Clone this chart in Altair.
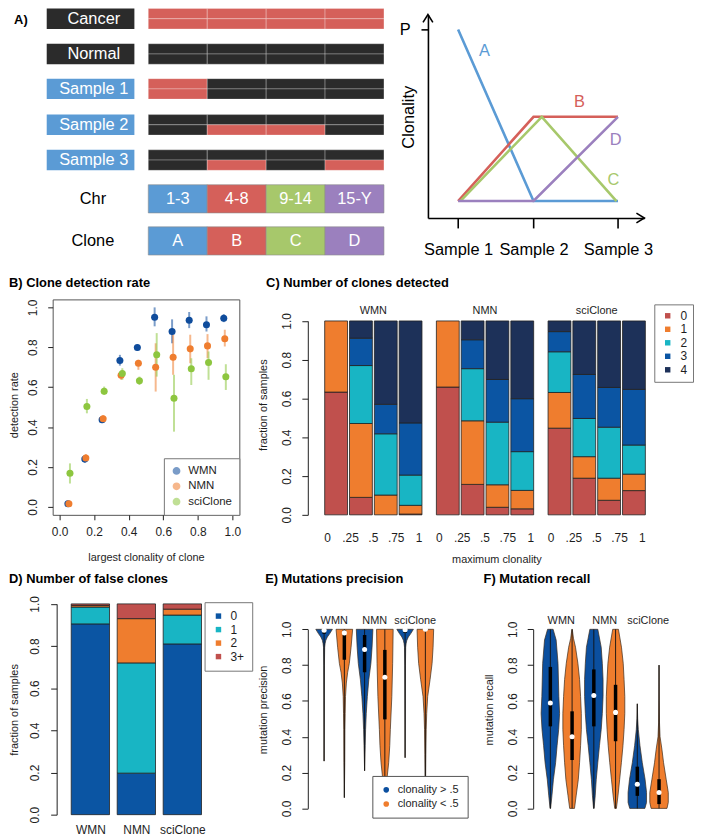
import altair as alt
import pandas as pd

FONT = "Liberation Sans"
INK = "#1e1e1e"
DARK = "#2b2b2b"
TUMOR = "#d5605a"
SAMPLE_BLUE = "#5b9bd5"
SEG_COLORS = ["#5b9bd5", "#d5605a", "#a7c86b", "#9b80be"]
M_COLORS = ["#0f4c9c", "#ef7d2f", "#8dc63f"]
N_COLORS = ["#c0504d", "#ef7d2e", "#18b5c4", "#0b55a3", "#1d3159"]
F_COLORS = ["#0b55a3", "#18b5c4", "#ef7d2e", "#c0504d"]
V_COLORS = ["#0b4f9f", "#ef7d2d"]

# ---------------- Panel A: schematic ----------------
a_samples = ["Cancer", "Normal", "Sample 1", "Sample 2", "Sample 3"]
a_kind = ["tissue", "tissue", "sample", "sample", "sample"]
a_copy_top = [["T", "T", "T", "T"], ["N", "N", "N", "N"], ["T", "N", "N", "N"],
              ["N", "N", "N", "N"], ["N", "N", "N", "N"]]
a_copy_bottom = [["T", "T", "T", "T"], ["N", "N", "N", "N"], ["T", "N", "N", "N"],
                 ["N", "T", "T", "N"], ["N", "T", "N", "T"]]
a_chr = ["1-3", "4-8", "9-14", "15-Y"]
a_clone = ["A", "B", "C", "D"]

s_clone = ["A", "B", "C", "D"]
s_x = [[1, 2, 3.12], [1, 2, 3.12], [1.03, 2.11, 3.1], [1, 2, 3.12]]
s_y = [[1.0, 0.09, 0.09], [0.09, 0.537, 0.537], [0.09, 0.537, 0.09], [0.09, 0.09, 0.537]]
s_label_x = [1.35, 2.61, 3.06, 3.09]
s_label_y = [0.884, 0.615, 0.204, 0.415]
s_samples = ["Sample 1", "Sample 2", "Sample 3"]
s_sample_x = [1, 2, 3.12]

# ---------------- Panel B: clone detection rate ----------------
b_methods = ["WMN", "NMN", "sciClone"]
b_x = [
    [0.048, 0.146, 0.246, 0.349, 0.450, 0.550, 0.651, 0.750, 0.850, 0.950],
    [0.054, 0.152, 0.252, 0.356, 0.456, 0.556, 0.657, 0.756, 0.856, 0.956],
    [0.060, 0.158, 0.258, 0.363, 0.462, 0.562, 0.662, 0.762, 0.862, 0.962],
]
b_rate = [
    [0.015, 0.240, 0.437, 0.734, 0.799, 0.951, 0.879, 0.936, 0.913, 0.946],
    [0.015, 0.245, 0.442, 0.660, 0.720, 0.700, 0.750, 0.792, 0.807, 0.843],
    [0.168, 0.503, 0.580, 0.668, 0.632, 0.762, 0.544, 0.692, 0.724, 0.652],
]
b_lo = [
    [0.005, 0.220, 0.420, 0.708, 0.782, 0.905, 0.820, 0.896, 0.879, 0.926],
    [0.005, 0.225, 0.425, 0.637, 0.687, 0.578, 0.662, 0.720, 0.745, 0.804],
    [0.117, 0.469, 0.561, 0.637, 0.611, 0.653, 0.377, 0.611, 0.637, 0.586],
]
b_hi = [
    [0.025, 0.260, 0.455, 0.762, 0.812, 1.000, 0.940, 0.977, 0.955, 0.966],
    [0.025, 0.265, 0.460, 0.678, 0.737, 0.820, 0.863, 0.863, 0.866, 0.888],
    [0.218, 0.541, 0.603, 0.695, 0.653, 0.871, 0.662, 0.745, 0.779, 0.715],
]

# ---------------- Panel C: number of clones detected ----------------
c_methods = ["WMN", "NMN", "sciClone"]
c_classes = ["0", "1", "2", "3", "4"]
c_ticklabels = ["0", ".25", ".5", ".75", "1"]
c_wmn = [[0.633, 0.367, 0, 0, 0], [0.090, 0.381, 0.299, 0.141, 0.089],
         [0.0, 0.102, 0.316, 0.152, 0.430], [0.004, 0.045, 0.156, 0.269, 0.526]]
c_nmn = [[0.659, 0.341, 0, 0, 0], [0.157, 0.328, 0.269, 0.149, 0.097],
         [0.039, 0.116, 0.323, 0.220, 0.302], [0.031, 0.095, 0.200, 0.273, 0.401]]
c_sci = [[0.447, 0.184, 0.210, 0.104, 0.055], [0.189, 0.111, 0.197, 0.227, 0.276],
         [0.075, 0.114, 0.263, 0.205, 0.343], [0.125, 0.085, 0.150, 0.287, 0.353]]

# ---------------- Panel D: number of false clones ----------------
d_methods = ["WMN", "NMN", "sciClone"]
d_classes = ["0", "1", "2", "3+"]
d_frac = [[0.905, 0.080, 0.008, 0.007], [0.197, 0.523, 0.210, 0.070], [0.810, 0.137, 0.028, 0.025]]

# ---------------- Panels E/F: violins ----------------
v_groups = ["clonality > .5", "clonality < .5"]
v_methods = ["WMN", "NMN", "sciClone"]
v_group_of = ["clonality > .5", "clonality < .5"] * 3

e_dens_y = [
    [1.0, 0.976, 0.957, 0.939, 0.92, 0.90, 0.80, 0.60, 0.264],
    [1.0, 0.90, 0.81, 0.76, 0.70, 0.625, 0.53, 0.44, 0.255, 0.06],
    [1.0, 0.90, 0.81, 0.72, 0.625, 0.53, 0.44, 0.35, 0.21],
    [1.0, 0.81, 0.625, 0.44, 0.35, 0.255, 0.18, 0.10, 0.0],
    [1.0, 0.976, 0.957, 0.939, 0.92, 0.90, 0.80, 0.60, 0.283],
    [1.0, 0.90, 0.81, 0.72, 0.625, 0.53, 0.44, 0.30, 0.15, 0.0],
]
e_dens_d = [
    [1.0, 0.68, 0.39, 0.21, 0.12, 0.07, 0.04, 0.024, 0.0],
    [1.0, 0.81, 0.60, 0.40, 0.24, 0.14, 0.10, 0.07, 0.05, 0.0],
    [1.0, 0.90, 0.76, 0.51, 0.33, 0.20, 0.12, 0.07, 0.0],
    [1.0, 0.94, 0.84, 0.66, 0.59, 0.46, 0.29, 0.15, 0.02],
    [1.0, 0.68, 0.39, 0.21, 0.12, 0.07, 0.04, 0.024, 0.0],
    [1.0, 0.93, 0.81, 0.57, 0.28, 0.16, 0.10, 0.06, 0.03, 0.0],
]
e_median = [0.995, 0.980, 0.887, 0.732, 0.997, 1.0]
e_q1 = [0.975, 0.830, 0.760, 0.497, 0.980, 0.990]
e_q3 = [1.0, 0.995, 0.968, 0.885, 1.0, 1.0]
e_min = [0.264, 0.06, 0.21, 0.0, 0.283, 0.0]
e_max = [1.0, 1.0, 1.0, 1.0, 1.0, 1.0]

f_dens_y = [
    [1.0, 0.94, 0.81, 0.625, 0.53, 0.44, 0.35, 0.255, 0.16, 0.07, 0.0],
    [1.0, 0.95, 0.90, 0.81, 0.72, 0.625, 0.53, 0.44, 0.35, 0.255, 0.16, 0.07, 0.0],
    [1.0, 0.90, 0.81, 0.72, 0.625, 0.53, 0.44, 0.35, 0.255, 0.16, 0.07, 0.0],
    [1.0, 0.90, 0.81, 0.72, 0.625, 0.53, 0.44, 0.35, 0.255, 0.16, 0.07, 0.0],
    [0.584, 0.50, 0.44, 0.35, 0.255, 0.163, 0.089, 0.033, 0.0],
    [0.80, 0.60, 0.477, 0.40, 0.33, 0.255, 0.163, 0.089, 0.033, 0.0],
]
f_dens_d = [
    [0.30, 0.63, 0.83, 0.92, 1.0, 0.90, 0.73, 0.57, 0.33, 0.17, 0.03],
    [0.02, 0.15, 0.37, 0.63, 0.81, 0.92, 1.0, 1.0, 0.92, 0.81, 0.67, 0.44, 0.26],
    [0.43, 0.80, 0.92, 1.0, 1.0, 0.92, 0.80, 0.61, 0.43, 0.26, 0.15, 0.03],
    [0.31, 0.64, 0.83, 0.92, 1.0, 1.0, 0.92, 0.80, 0.63, 0.44, 0.26, 0.09],
    [0.0, 0.04, 0.11, 0.29, 0.54, 0.84, 1.0, 1.0, 0.82],
    [0.0, 0.02, 0.05, 0.11, 0.31, 0.49, 0.77, 1.0, 1.0, 0.86],
]
f_median = [0.588, 0.400, 0.630, 0.536, 0.135, 0.089]
f_q1 = [0.458, 0.270, 0.458, 0.375, 0.070, 0.024]
f_q3 = [0.790, 0.542, 0.776, 0.690, 0.233, 0.163]
f_min = [0.0, 0.0, 0.0, 0.0, 0.0, 0.0]
f_max = [1.0, 1.0, 1.0, 1.0, 0.584, 0.80]

TICKS01 = [0, 0.2, 0.4, 0.6, 0.8, 1.0]


def label_expr(values, labels):
    expr = "'" + labels[-1] + "'"
    for i in range(len(values) - 2, -1, -1):
        mid = (values[i] + values[i + 1]) / 2
        expr = "datum.value < %.4f ? '%s' : (%s)" % (mid, labels[i], expr)
    return expr


def yaxis_r(title, title_x, title_y, tick=6, pad=8, domain=True):
    return alt.Axis(values=TICKS01, format=".1f", labelAngle=270, labelAlign="center",
                    labelBaseline="bottom", tickSize=tick, labelPadding=pad, labelFontSize=12,
                    domain=domain, title=title, titleFontSize=11, titleX=title_x, titleY=title_y,
                    titleFontWeight="normal", grid=False)


def panel_title(text, dx, dy):
    return alt.TitleParams(text=text, anchor="start", frame="group", dx=dx, dy=dy, offset=0,
                           baseline="bottom", fontSize=13, fontWeight="bold", color="black",
                           font=FONT)


def spacer(w, h=1):
    # invisible layout filler: a single transparent tiny point inside its own box
    return alt.Chart(pd.DataFrame({"v": [0]})).mark_point(size=1, opacity=0).encode(
        x=alt.value(3), y=alt.value(12)).properties(width=w, height=h)


# ================= Panel A left =================
ROW_C = [0.29, 1.29, 2.28, 3.30, 4.30]
CHR_C, CLONE_C = 5.40, 6.595
HALF_BAR, HALF_BOX = 0.29, 0.40
LAB_X0, LAB_X1, LAB_XT, ROWLAB_X = -1.724, -0.236, -0.925, -0.94

cell_rows = []
for i, s in enumerate(a_samples):
    for j in range(4):
        cell_rows.append({"x": j, "x2": j + 1, "y": ROW_C[i] - HALF_BAR, "y2": ROW_C[i],
                          "state": a_copy_top[i][j]})
        cell_rows.append({"x": j, "x2": j + 1, "y": ROW_C[i], "y2": ROW_C[i] + HALF_BAR,
                          "state": a_copy_bottom[i][j]})
cells = pd.DataFrame(cell_rows)
lab = pd.DataFrame({"name": a_samples, "kind": a_kind, "yc": ROW_C})
lab["y"] = lab.yc - HALF_BAR
lab["y2"] = lab.yc + HALF_BAR
lab["x"] = LAB_X0
lab["x2"] = LAB_X1
lab["xt"] = LAB_XT
seg_rows = []
for j in range(4):
    seg_rows.append({"seg": j, "label": a_chr[j], "yc": CHR_C})
    seg_rows.append({"seg": j, "label": a_clone[j], "yc": CLONE_C})
segs = pd.DataFrame(seg_rows)
segs["x"] = segs.seg
segs["x2"] = segs.seg + 1
segs["xm"] = segs.seg + 0.5
segs["y"] = segs.yc - HALF_BOX
segs["y2"] = segs.yc + HALF_BOX
rowlab = pd.DataFrame({"label": ["Chr", "Clone"], "yc": [CHR_C, CLONE_C], "x": ROWLAB_X})

xa = alt.Scale(domain=[-1.724, 4.005], nice=False, zero=False)
ya = alt.Scale(domain=[0, 6.986], reverse=True, nice=False, zero=False)

A_cells = alt.Chart(cells).mark_rect(stroke="white", strokeWidth=0.6, strokeOpacity=0.45).encode(
    x=alt.X("x:Q", scale=xa, axis=None), x2="x2:Q",
    y=alt.Y("y:Q", scale=ya, axis=None), y2="y2:Q",
    color=alt.Color("state:N", scale=alt.Scale(domain=["T", "N"], range=[TUMOR, DARK]), legend=None))
A_lab = alt.Chart(lab).mark_rect().encode(
    x=alt.X("x:Q", scale=xa, axis=None), x2="x2:Q",
    y=alt.Y("y:Q", scale=ya, axis=None), y2="y2:Q",
    color=alt.Color("kind:N", scale=alt.Scale(domain=["tissue", "sample"], range=[DARK, SAMPLE_BLUE]),
                    legend=None))
A_labt = alt.Chart(lab).mark_text(color="white", fontSize=16.5).encode(
    x=alt.X("xt:Q", scale=xa, axis=None), y=alt.Y("yc:Q", scale=ya, axis=None), text="name:N")
A_seg = alt.Chart(segs).mark_rect(stroke="#8a8a8a", strokeWidth=0.6).encode(
    x=alt.X("x:Q", scale=xa, axis=None), x2="x2:Q",
    y=alt.Y("y:Q", scale=ya, axis=None), y2="y2:Q",
    color=alt.Color("seg:N", scale=alt.Scale(domain=[0, 1, 2, 3], range=SEG_COLORS), legend=None))
A_segt = alt.Chart(segs).mark_text(color="white", fontSize=16.5).encode(
    x=alt.X("xm:Q", scale=xa, axis=None), y=alt.Y("yc:Q", scale=ya, axis=None), text="label:N")
A_rowt = alt.Chart(rowlab).mark_text(color="black", fontSize=16.5).encode(
    x=alt.X("x:Q", scale=xa, axis=None), y=alt.Y("yc:Q", scale=ya, axis=None), text="label:N")
A_tag = alt.Chart(pd.DataFrame({"t": ["A)"]})).mark_text(
    fontSize=13, fontWeight="bold", color="black").encode(
    x=alt.value(-26), y=alt.value(11.3), text="t:N")
a_left = alt.layer(A_cells, A_lab, A_labt, A_seg, A_segt, A_rowt, A_tag).resolve_scale(
    color="independent").properties(width=340, height=248)

# ================= Panel A right =================
sch = pd.DataFrame([{"clone": c, "x": xx, "y": yy, "o": k}
                    for c, xs_, ys_ in zip(s_clone, s_x, s_y)
                    for k, (xx, yy) in enumerate(zip(xs_, ys_))])
schl = pd.DataFrame({"clone": s_clone, "x": s_label_x, "y": s_label_y})
xr = alt.Scale(domain=[0.6, 3.47], nice=False, zero=False)
yr = alt.Scale(domain=[0, 1.08], range=[211, 6], nice=False, zero=False)
cl_col = alt.Scale(domain=s_clone, range=SEG_COLORS)
ax_rx = alt.Axis(values=s_sample_x, labelExpr=label_expr(s_sample_x, s_samples), tickSize=10,
                 tickWidth=1.6, domainWidth=1.6, domainColor="black", tickColor="black",
                 labelColor="black", labelFontSize=16.5, labelPadding=14, title=None, grid=False)
ax_ry = alt.Axis(values=[1], labelExpr="'P'", tickSize=7, tickWidth=1.6, domainWidth=1.6,
                 domainColor="black", tickColor="black", labelColor="black", labelFontSize=16.5,
                 labelPadding=11, title="Clonality", titleFontSize=16.5, titleFontWeight="normal",
                 titleColor="black", titleX=-11.5, titleY=109, grid=False)
R_lines = alt.Chart(sch).mark_line(strokeWidth=2.6).encode(
    x=alt.X("x:Q", scale=xr, axis=ax_rx), y=alt.Y("y:Q", scale=yr, axis=ax_ry),
    color=alt.Color("clone:N", scale=cl_col, legend=None), order="o:Q")
R_text = alt.Chart(schl).mark_text(fontSize=16.5).encode(
    x=alt.X("x:Q", scale=xr, axis=ax_rx), y=alt.Y("y:Q", scale=yr, axis=ax_ry),
    text="clone:N", color=alt.Color("clone:N", scale=cl_col, legend=None))
R_arr_x = alt.Chart(pd.DataFrame({"x": [3.47], "y": [0.0]})).mark_point(
    shape="M-1,-0.62L0,0L-1,0.62", filled=False, opacity=1, color="black", strokeWidth=1.6,
    size=256).encode(x=alt.X("x:Q", scale=xr, axis=ax_rx), y=alt.Y("y:Q", scale=yr, axis=ax_ry))
R_arr_y = alt.Chart(pd.DataFrame({"x": [0.6], "y": [1.08]})).mark_point(
    shape="M-0.62,1L0,0L0.62,1", filled=False, opacity=1, color="black", strokeWidth=1.6,
    size=256).encode(x=alt.X("x:Q", scale=xr, axis=ax_rx), y=alt.Y("y:Q", scale=yr, axis=ax_ry))
a_right = alt.layer(R_lines, R_text, R_arr_x, R_arr_y).properties(width=218, height=211)

# ================= Panel B =================
b_rows = []
for m, xs_, r_, lo_, hi_ in zip(b_methods, b_x, b_rate, b_lo, b_hi):
    for xx, rr, ll, hh in zip(xs_, r_, lo_, hi_):
        b_rows.append({"method": m, "x": xx, "rate": rr, "lo": ll, "hi": hh})
df_b = pd.DataFrame(b_rows)
xb = alt.Scale(domain=[-0.04, 1.04], nice=False, zero=False)
yb = alt.Scale(domain=[-0.04, 1.04], nice=False, zero=False)
ax_bx = alt.Axis(values=TICKS01, format=".1f", tickSize=5, labelPadding=6.5, labelFontSize=12,
                 domain=False, title="largest clonality of clone", titleFontSize=11, titleY=37.5,
                 titleFontWeight="normal", grid=False)
ax_by = yaxis_r("detection rate", -33, 106, tick=5, pad=8, domain=False)
m_col = alt.Scale(domain=b_methods, range=M_COLORS)
leg_b = alt.Legend(title=None, orient="bottom-right", offset=0, padding=7, symbolType="circle",
                   symbolSize=40, labelFontSize=11.5, rowPadding=2.5, strokeColor="#777",
                   fillColor="white", labelOffset=6)
B_err = alt.Chart(df_b).mark_rule(strokeWidth=2, opacity=0.55).encode(
    x=alt.X("x:Q", scale=xb, axis=ax_bx), y=alt.Y("lo:Q", scale=yb, axis=ax_by), y2="hi:Q",
    color=alt.Color("method:N", scale=m_col, legend=leg_b))
B_pts = alt.Chart(df_b).mark_circle(size=50, opacity=1).encode(
    x=alt.X("x:Q", scale=xb, axis=ax_bx), y=alt.Y("rate:Q", scale=yb, axis=ax_by),
    color=alt.Color("method:N", scale=m_col, legend=leg_b))
b_chart = alt.layer(B_err, B_pts).properties(
    width=188, height=217, title=panel_title("B) Clone detection rate", -44, 4),
    view=alt.ViewBackground(stroke="#555555", strokeWidth=1))

# ================= Panel C =================
C_GROUP, C_BAR = 4.5, 0.92
c_all = {"WMN": c_wmn, "NMN": c_nmn, "sciClone": c_sci}
c_rows = []
for g, m in enumerate(c_methods):
    for b in range(4):
        for k in range(5):
            fv = c_all[m][b][k]
            if fv > 0:
                c_rows.append({"method": m, "bin": b, "k": k, "cls": c_classes[k], "frac": fv,
                               "xl": g * C_GROUP + b, "xr": g * C_GROUP + b + C_BAR})
df_c = pd.DataFrame(c_rows)
c_tick_vals = [g * C_GROUP + 0.1 + i * 0.92 for g in range(3) for i in range(5)]
xc = alt.Scale(domain=[-0.68, 13.04], nice=False, zero=False)
yc = alt.Scale(domain=[0, 1], range=[217, 21.7], nice=False, zero=False)
ax_cx = alt.Axis(values=c_tick_vals, labelExpr=label_expr(c_tick_vals, c_ticklabels * 3),
                 ticks=False, tickSize=0, domain=False, labelPadding=17.5, labelFontSize=12,
                 title="maximum clonality", titleFontSize=11, titleX=190, titleY=39,
                 titleFontWeight="normal", grid=False)
ax_cy = yaxis_r("fraction of samples", -40, 106)
leg_c = alt.Legend(title=None, orient="none", legendX=349, legendY=5, padding=5.5,
                   symbolType="square", symbolSize=30, symbolStrokeWidth=0, symbolOffset=2,
                   labelFontSize=12, rowPadding=1.6, strokeColor="#777", fillColor="white",
                   labelOffset=7)
C_bars = alt.Chart(df_c).transform_stack(
    stack="frac", groupby=["method", "bin"], as_=["y0", "y1"],
    sort=[alt.SortField("k", order="ascending")]
).mark_rect(stroke="#222222", strokeWidth=0.8).encode(
    x=alt.X("xl:Q", scale=xc, axis=ax_cx), x2="xr:Q",
    y=alt.Y("y0:Q", scale=yc, axis=ax_cy), y2="y1:Q",
    color=alt.Color("cls:N", scale=alt.Scale(domain=c_classes, range=N_COLORS), legend=leg_c))
c_lab = pd.DataFrame({"t": c_methods, "x": [g * C_GROUP + 1.96 for g in range(3)], "y": 1.05})
C_text = alt.Chart(c_lab).mark_text(fontSize=11, color=INK).encode(
    x=alt.X("x:Q", scale=xc, axis=ax_cx), y=alt.Y("y:Q", scale=yc, axis=ax_cy), text="t:N")
c_chart = alt.layer(C_bars, C_text).properties(
    width=343, height=217, title=panel_title("C) Number of clones detected", -42, 4))

# ================= Panel D =================
d_rows = []
for j, m in enumerate(d_methods):
    for k in range(4):
        d_rows.append({"method": m, "k": k, "cls": d_classes[k], "frac": d_frac[j][k],
                       "xl": 0.2 + j * 1.2, "xr": 1.2 + j * 1.2})
df_d = pd.DataFrame(d_rows)
d_tick_vals = [0.7, 1.9, 3.1]
xd = alt.Scale(domain=[-0.18, 3.68], nice=False, zero=False)
yd = alt.Scale(domain=[0, 1], range=[221, 8.7], nice=False, zero=False)
ax_dx = alt.Axis(values=d_tick_vals, labelExpr=label_expr(d_tick_vals, d_methods), ticks=False,
                 tickSize=0, domain=False, labelPadding=0.5, labelFontSize=12, title=None,
                 grid=False)
ax_dy = yaxis_r("fraction of samples", -37, 115, pad=9)
leg_d = alt.Legend(title=None, orient="none", legendX=149, legendY=7, padding=8,
                   symbolType="square", symbolSize=30, symbolStrokeWidth=0, labelFontSize=12,
                   rowPadding=1.6, strokeColor="#777", fillColor="white", labelOffset=6)
d_chart = alt.Chart(df_d).transform_stack(
    stack="frac", groupby=["method"], as_=["y0", "y1"],
    sort=[alt.SortField("k", order="ascending")]
).mark_rect(stroke="#222222", strokeWidth=0.8).encode(
    x=alt.X("xl:Q", scale=xd, axis=ax_dx), x2="xr:Q",
    y=alt.Y("y0:Q", scale=yd, axis=ax_dy), y2="y1:Q",
    color=alt.Color("cls:N", scale=alt.Scale(domain=d_classes, range=F_COLORS), legend=leg_d)
).properties(width=149, height=230, title=panel_title("D) Number of false clones", -48, 4))


# ================= Panels E / F =================
def violin_panel(dens_y, dens_d, med, q1, q3, vmin, vmax, half_w, xdom, width, ytitle,
                 title_text, title_dx, legend):
    vrows = []
    for i in range(6):
        for yy, dd in zip(dens_y[i], dens_d[i]):
            vrows.append({"k": i + 1, "grp": v_group_of[i], "y": yy, "d": dd})
    dv = pd.DataFrame(vrows).sort_values(["k", "y"])
    st = pd.DataFrame({"k": list(range(1, 7)), "med": med, "q1": q1, "q3": q3,
                       "lo": vmin, "hi": vmax})
    labs = pd.DataFrame({"t": v_methods, "x": [1.5, 3.5, 5.5], "y": 1.045})
    xs_ = alt.Scale(domain=xdom, nice=False, zero=False)
    ys_ = alt.Scale(domain=[0, 1], range=[214.7, 34.3], nice=False, zero=False)
    ay = yaxis_r(ytitle, -40 if legend is not None else -39, 115)
    col = alt.Color("grp:N", scale=alt.Scale(domain=v_groups, range=V_COLORS),
                    legend=legend if legend is not None else None)
    area = alt.Chart(dv).transform_calculate(
        xl="datum.k - datum.d * %f" % half_w, xr="datum.k + datum.d * %f" % half_w
    ).mark_area(orient="horizontal", opacity=1, stroke="#3a2a1c", strokeWidth=0.7).encode(
        y=alt.Y("y:Q", scale=ys_, axis=ay),
        x=alt.X("xl:Q", scale=xs_, axis=None, stack=None), x2="xr:Q",
        color=col, detail="k:N")
    whisk = alt.Chart(st).mark_rule(strokeWidth=0.9, color="#111111").encode(
        x=alt.X("k:Q", scale=xs_, axis=None), y=alt.Y("lo:Q", scale=ys_, axis=ay), y2="hi:Q")
    box = alt.Chart(st).mark_rule(strokeWidth=3.5, color="black").encode(
        x=alt.X("k:Q", scale=xs_, axis=None), y=alt.Y("q1:Q", scale=ys_, axis=ay), y2="q3:Q")
    medp = alt.Chart(st).mark_circle(size=26, opacity=1, color="white").encode(
        x=alt.X("k:Q", scale=xs_, axis=None), y=alt.Y("med:Q", scale=ys_, axis=ay))
    txt = alt.Chart(labs).mark_text(fontSize=11, color=INK).encode(
        x=alt.X("x:Q", scale=xs_, axis=None), y=alt.Y("y:Q", scale=ys_, axis=ay), text="t:N")
    return alt.layer(area, whisk, box, medp, txt).properties(
        width=width, height=230, title=panel_title(title_text, title_dx, 4))


leg_e = alt.Legend(title=None, orient="none", legendX=65, legendY=182, padding=8.5,
                   symbolType="circle", symbolSize=32, symbolStrokeWidth=0, labelFontSize=11,
                   rowPadding=2.3, strokeColor="#555", fillColor="white", labelOffset=6)
e_chart = violin_panel(e_dens_y, e_dens_d, e_median, e_q1, e_q3, e_min, e_max, 0.41,
                       [0.196, 8.088], 161, "mutation precision", "E) Mutations precision", -43,
                       leg_e)
f_chart = violin_panel(f_dens_y, f_dens_d, f_median, f_q1, f_q3, f_min, f_max, 0.425,
                       [0.21, 7.06], 150, "mutation recall", "F) Mutation recall", -50, None)

# ================= Layout =================
row1 = alt.hconcat(a_left, spacer(44, 261), a_right, spacing=0, bounds="flush").resolve_scale(
    color="independent")
row2 = alt.hconcat(spacer(6), b_chart, spacer(69), c_chart, spacing=0, bounds="flush").resolve_scale(
    color="independent")
row3 = alt.hconcat(spacer(10), d_chart, spacer(104), e_chart, spacer(66), f_chart, spacing=0,
                   bounds="flush").resolve_scale(color="independent")

chart = alt.vconcat(row1, row2, row3, spacing=9,
                    padding={"top": -3.5, "left": 0, "right": 0, "bottom": 0}).resolve_scale(
    color="independent")
chart = chart.configure(font=FONT).configure_view(strokeWidth=0).configure_axis(
    labelFlush=False, labelOverlap=False, domainColor=INK, tickColor=INK, labelColor=INK,
    titleColor=INK, grid=False, labelFont=FONT, titleFont=FONT
).configure_legend(labelColor=INK, labelFont=FONT)

chart.save("out.html", embed_options={"renderer": "svg", "actions": False})
